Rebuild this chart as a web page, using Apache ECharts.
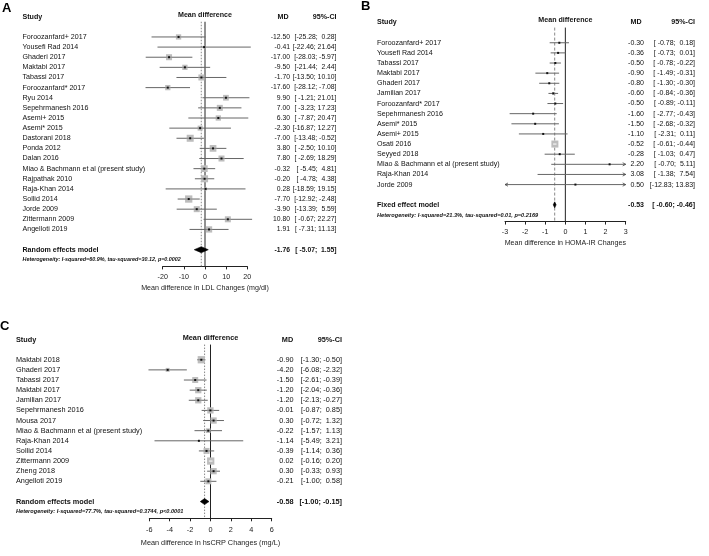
<!DOCTYPE html>
<html>
<head>
<meta charset="utf-8">
<script src="https://cdn.jsdelivr.net/npm/echarts@6/dist/echarts.min.js"></script>
<style>html,body{margin:0;padding:0;background:#fff;}#c{width:709px;height:556px;}</style>
</head>
<body>
<div id="c"></div>
<script>
// ---------- DATA ----------
// Panel A: LDL
const ldlStudies = ["Foroozanfard+ 2017","Yousefi Rad 2014","Ghaderi 2017","Maktabi 2017","Tabassi 2017","Foroozanfard* 2017","Ryu 2014","Sepehrmanesh 2016","Asemi+ 2015","Asemi* 2015","Dastorani 2018","Ponda 2012","Dalan 2016","Miao & Bachmann et al (present study)","Rajpathak 2010","Raja-Khan 2014","Sollid 2014","Jorde 2009","Zittermann 2009","Angelloti 2019"];
const ldlMD    = [-12.50,-0.41,-17.00,-9.50,-1.70,-17.60,9.90,7.00,6.30,-2.30,-7.00,3.80,7.80,-0.32,-0.20,0.28,-7.70,-3.90,10.80,1.91];
const ldlLower = [-25.28,-22.46,-28.03,-21.44,-13.50,-28.12,-1.21,-3.23,-7.87,-16.87,-13.48,-2.50,-2.69,-5.45,-4.78,-18.59,-12.92,-13.39,-0.67,-7.31];
const ldlUpper = [0.28,21.64,-5.97,2.44,10.10,-7.08,21.01,17.23,20.47,12.27,-0.52,10.10,18.29,4.81,4.38,19.15,-2.48,5.59,22.27,11.13];
const ldlWeight = [4.1,1.1,5.3,4.1,5.3,4.1,4.8,5.3,4.1,3.7,7.2,6.6,5.3,6.6,7.2,1.3,7.8,5.3,5.3,5.8];
const ldlPooled = [-1.76,-5.07,1.55];
const ldlPooledLabel = "Random effects model";
const ldlHet = "Heterogeneity: I-squared=60.9%, tau-squared=30.12, p=0.0002";
const ldlAxisTitle = "Mean difference in LDL Changes (mg/dl)";

// Panel B: HOMA-IR
const homaStudies = ["Foroozanfard+ 2017","Yousefi Rad 2014","Tabassi 2017","Maktabi 2017","Ghaderi 2017","Jamilian 2017","Foroozanfard* 2017","Sepehrmanesh 2016","Asemi* 2015","Asemi+ 2015","Osati 2016","Seyyed 2018","Miao & Bachmann et al (present study)","Raja-Khan 2014","Jorde 2009"];
const homaMD    = [-0.30,-0.36,-0.50,-0.90,-0.80,-0.60,-0.50,-1.60,-1.50,-1.10,-0.52,-0.28,2.20,3.08,0.50];
const homaLower = [-0.78,-0.73,-0.78,-1.49,-1.30,-0.84,-0.89,-2.77,-2.68,-2.31,-0.61,-1.03,-0.70,-1.38,-12.83];
const homaUpper = [0.18,0.01,-0.22,-0.31,-0.30,-0.36,-0.11,-0.43,-0.32,0.11,-0.44,0.47,5.11,7.54,13.83];
const homaWeight = [2.2,3.7,6.5,1.5,2.0,8.8,3.3,0.4,0.4,0.3,70.0,0.9,0.06,0.03,0.01];
const homaPooled = [-0.53,-0.60,-0.46];
const homaPooledLabel = "Fixed effect model";
const homaHet = "Heterogeneity: I-squared=21.3%, tau-squared=0.01, p=0.2169";
const homaAxisTitle = "Mean difference in HOMA-IR Changes";

// Panel C: hsCRP
const crpStudies = ["Maktabi 2018","Ghaderi 2017","Tabassi 2017","Maktabi 2017","Jamilian 2017","Sepehrmanesh 2016","Mousa 2017","Miao & Bachmann et al (present study)","Raja-Khan 2014","Sollid 2014","Zittermann 2009","Zheng 2018","Angelloti 2019"];
const crpMD    = [-0.90,-4.20,-1.50,-1.20,-1.20,-0.01,0.30,-0.22,-1.14,-0.39,0.02,0.30,-0.21];
const crpLower = [-1.30,-6.08,-2.61,-2.04,-2.13,-0.87,-0.72,-1.57,-5.49,-1.14,-0.16,-0.33,-1.00];
const crpUpper = [-0.50,-2.32,-0.39,-0.36,-0.27,0.85,1.32,1.13,3.21,0.36,0.20,0.93,0.58];
const crpWeight = [11.7,3.5,7.9,8.7,8.7,8.7,8.7,4.8,0.6,7.9,11.7,8.7,7.9];
const crpPooled = [-0.58,-1.00,-0.15];
const crpPooledLabel = "Random effects model";
const crpHet = "Heterogeneity: I-squared=77.7%, tau-squared=0.3744, p<0.0001";
const crpAxisTitle = "Mean difference in hsCRP Changes (mg/L)";

// ---------- LAYOUT ----------
const FONT = '"Liberation Sans", Arial, Helvetica, sans-serif';
const panels = [
  {letter:'A', letterX:2, letterY:9, studies:ldlStudies, md:ldlMD, lower:ldlLower, upper:ldlUpper, weight:ldlWeight,
   pooled:ldlPooled, pooledLabel:ldlPooledLabel, het:ldlHet, axisTitle:ldlAxisTitle,
   min:-20, max:20, interval:10, clipMin:-Infinity, clipMax:Infinity,
   left:162.7, width:84.6, top:16.7, spacing:10.13,
   nameX:22.5, mdX:290, mdHeadX:283, ciX:336.5, sqK:2.61, fs:7.1, numFs:6.8, hetFs:5.4, margin:7, nameGap:18.5, dash:[1.5,1.5]},
  {letter:'B', letterX:361, letterY:7, studies:homaStudies, md:homaMD, lower:homaLower, upper:homaUpper, weight:homaWeight,
   pooled:homaPooled, pooledLabel:homaPooledLabel, het:homaHet, axisTitle:homaAxisTitle,
   min:-3, max:3, interval:1, clipMin:-3, clipMax:3,
   left:505, width:120.7, top:22.5, spacing:10.13,
   nameX:377, mdX:644, mdHeadX:636, ciX:695, sqK:0.84, fs:7.1, numFs:7, hetFs:5.6, margin:7, nameGap:18, dash:[3,2]},
  {letter:'C', letterX:0, letterY:327, studies:crpStudies, md:crpMD, lower:crpLower, upper:crpUpper, weight:crpWeight,
   pooled:crpPooled, pooledLabel:crpPooledLabel, het:crpHet, axisTitle:crpAxisTitle,
   min:-6, max:6, interval:2, clipMin:-Infinity, clipMax:Infinity,
   left:149.3, width:122.4, top:339.5, spacing:10.13,
   nameX:16, mdX:293.5, mdHeadX:287.5, ciX:342, sqK:2.13, fs:7.3, numFs:7.3, hetFs:5.6, margin:8, nameGap:21, dash:[1.5,1.5]}
];

function padL(s, n){ while (s.length < n) s = ' ' + s; return s; }
function fmtCI(lo, hi, wLo, wHi){ return '[' + padL(lo.toFixed(2), wLo) + '; ' + padL(hi.toFixed(2), wHi) + ']'; }
function txt(x, y, s, fs, opts){
  opts = opts || {};
  return {type:'text', x:x, y:y, silent:true, style:{text:s, fontSize:fs, fontFamily:FONT,
    fontWeight:opts.bold?'bold':'normal', fontStyle:opts.italic?'italic':'normal',
    fill:opts.fill||'#111', align:opts.align||'left', verticalAlign:'middle'}};
}

const grids = [], xAxes = [], yAxes = [], series = [], graphics = [];
panels.forEach(function(p, k){
  const n = p.studies.length;
  const axisRow = n + 4.65;
  const allLo = p.lower.concat([p.pooled[1]]).map(v=>v.toFixed(2).length);
  const allHi = p.upper.concat([p.pooled[2]]).map(v=>v.toFixed(2).length);
  p.wLo = Math.max.apply(null, allLo); p.wHi = Math.max.apply(null, allHi);

  grids.push({left:p.left, top:p.top, width:p.width, height:axisRow*p.spacing, outerBoundsMode:'none', containLabel:false});
  xAxes.push({type:'value', gridIndex:k, min:p.min, max:p.max, interval:p.interval, position:'bottom',
    axisLine:{show:true, onZero:false, lineStyle:{color:'#222', width:1}},
    axisTick:{show:true, length:3, inside:false, lineStyle:{color:'#222', width:1}},
    axisLabel:{fontSize:p.fs, fontFamily:FONT, color:'#222', margin:p.margin, showMinLabel:true, showMaxLabel:true},
    splitLine:{show:false},
    name:p.axisTitle, nameLocation:'middle', nameGap:p.nameGap,
    nameTextStyle:{fontSize:p.fs, fontFamily:FONT, color:'#222'}});
  yAxes.push({type:'value', gridIndex:k, min:0, max:axisRow, inverse:true, show:false});

  // frame: headers, reference lines, heterogeneity
  series.push({type:'custom', xAxisIndex:k, yAxisIndex:k, clip:false, z:1, silent:true,
    data:[[p.pooled[0], 0]],
    renderItem:function(params, api){
      const a0 = api.coord([0, 0.5]), a1 = api.coord([0, axisRow]);
      const d0 = api.coord([api.value(0), 0.5]), d1 = api.coord([api.value(0), axisRow]);
      const hy = api.coord([0, 0])[1];
      const cx = api.coord([(p.min+p.max)/2, 0])[0];
      const hetY = api.coord([0, n + 4])[1];
      return {type:'group', children:[
        {type:'line', shape:{x1:d0[0], y1:d0[1], x2:d1[0], y2:d1[1]}, style:{stroke:'#888', lineWidth:1, lineDash:p.dash}},
        {type:'line', shape:{x1:a0[0], y1:a0[1], x2:a1[0], y2:a1[1]}, style:{stroke:'#222', lineWidth:1}},
        txt(p.nameX, hy, 'Study', p.fs, {bold:true}),
        txt(cx, hy-2, 'Mean difference', p.fs, {bold:true, align:'center'}),
        txt(p.mdHeadX, hy, 'MD', p.fs, {bold:true, align:'center'}),
        txt(p.ciX, hy, '95%-CI', p.fs, {bold:true, align:'right'}),
        txt(p.nameX, hetY, p.het, p.hetFs, {bold:true, italic:true})
      ]};
    }});

  // studies
  series.push({type:'custom', xAxisIndex:k, yAxisIndex:k, clip:false, z:2, silent:true,
    data:p.studies.map(function(s, i){ return [p.md[i], i + 2, p.lower[i], p.upper[i], p.weight[i]]; }),
    renderItem:function(params, api){
      const i = params.dataIndex;
      const md = api.value(0), row = api.value(1), lo = api.value(2), hi = api.value(3), w = api.value(4);
      const l = Math.max(lo, p.clipMin), h = Math.min(hi, p.clipMax);
      const p0 = api.coord([l, row]), p1 = api.coord([h, row]), pc = api.coord([md, row]);
      const y = pc[1];
      const s = p.sqK * Math.sqrt(w);
      const inRange = md >= p.clipMin && md <= p.clipMax;
      const ch = [];
      ch.push({type:'line', shape:{x1:p0[0], y1:y, x2:p1[0], y2:y}, style:{stroke:'#666', lineWidth:1}});
      if (lo < p.clipMin) ch.push({type:'polyline', shape:{points:[[p0[0]+3, y-1.6],[p0[0], y],[p0[0]+3, y+1.6]]}, style:{stroke:'#444', lineWidth:0.8, fill:null}});
      if (hi > p.clipMax) ch.push({type:'polyline', shape:{points:[[p1[0]-3, y-1.6],[p1[0], y],[p1[0]-3, y+1.6]]}, style:{stroke:'#444', lineWidth:0.8, fill:null}});
      if (inRange) {
        ch.push({type:'rect', shape:{x:pc[0]-s/2, y:y-s/2, width:s, height:s}, style:{fill:'#bdbdbd'}});
        if (p1[0]-p0[0] < s) {
          ch.push({type:'line', shape:{x1:p0[0], y1:y, x2:p1[0], y2:y}, style:{stroke:'#fff', lineWidth:1}});
        } else {
          ch.push({type:'line', shape:{x1:pc[0]-s/2, y1:y, x2:pc[0]+s/2, y2:y}, style:{stroke:'#777', lineWidth:0.8}});
          ch.push({type:'rect', shape:{x:pc[0]-1, y:y-1, width:2, height:2}, style:{fill:'#111'}});
        }
      }
      ch.push(txt(p.nameX, y, p.studies[i], p.fs));
      ch.push(txt(p.mdX, y, md.toFixed(2), p.numFs, {align:'right'}));
      ch.push(txt(p.ciX, y, fmtCI(lo, hi, p.wLo, p.wHi), p.numFs, {align:'right'}));
      return {type:'group', children:ch};
    }});

  // pooled estimate
  series.push({type:'custom', xAxisIndex:k, yAxisIndex:k, clip:false, z:3, silent:true,
    data:[[p.pooled[0], n + 3, p.pooled[1], p.pooled[2]]],
    renderItem:function(params, api){
      const md = api.value(0), row = api.value(1), lo = api.value(2), hi = api.value(3);
      const c = api.coord([md, row]), a = api.coord([lo, row]), b = api.coord([hi, row]);
      const y = c[1];
      return {type:'group', children:[
        {type:'polygon', shape:{points:[[a[0], y],[c[0], y-3],[b[0], y],[c[0], y+3]]}, style:{fill:'#000', stroke:'#000', lineWidth:0.6}},
        txt(p.nameX, y, p.pooledLabel, p.fs, {bold:true}),
        txt(p.mdX, y, md.toFixed(2), p.numFs, {bold:true, align:'right'}),
        txt(p.ciX, y, fmtCI(lo, hi, p.wLo, p.wHi), p.numFs, {bold:true, align:'right'})
      ]};
    }});

  graphics.push({type:'text', left:p.letterX, top:p.letterY - 7, silent:true,
    style:{text:p.letter, fontSize:13, fontWeight:'bold', fontFamily:FONT, fill:'#000'}});
});

const chart = echarts.init(document.getElementById('c'), null, {renderer:'canvas'});
chart.setOption({
  backgroundColor:'#fff',
  animation:false,
  grid:grids, xAxis:xAxes, yAxis:yAxes, series:series, graphic:graphics
});
</script>
</body>
</html>
